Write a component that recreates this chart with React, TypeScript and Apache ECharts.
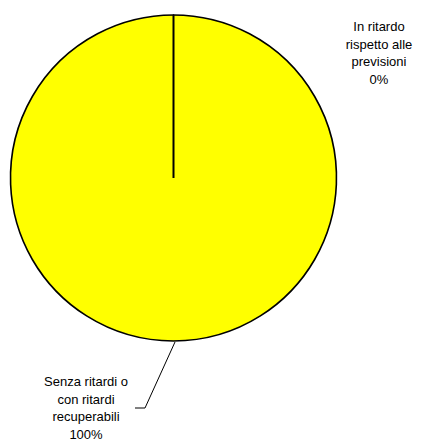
import React, { useEffect, useRef } from "react";
import * as echarts from "echarts";

const categories = ["In ritardo\nrispetto alle\nprevisioni", "Senza ritardi o\ncon ritardi\nrecuperabili"];
const percentages = [0, 100];
const colors = ["#FFFF00", "#FFFF00"];

const CX = 173.5;
const CY = 178;
const R = 163;

export default function App() {
  const ref = useRef<HTMLDivElement>(null);
  useEffect(() => {
    if (!ref.current) return;
    const chart = echarts.init(ref.current, null, { renderer: "svg" });
    chart.setOption({
      animation: false,
      backgroundColor: "#ffffff",
      series: [
        {
          type: "pie",
          center: [CX, CY],
          radius: R,
          startAngle: 90,
          clockwise: true,
          avoidLabelOverlap: false,
          itemStyle: { borderColor: "#000000", borderWidth: 1.6 },
          label: {
            show: true,
            position: "outside",
            formatter: "{b}\n{d}%",
            fontFamily: "'Liberation Sans', Arial, sans-serif",
            fontSize: 13,
            lineHeight: 17.5,
            color: "#000000",
            align: "center",
          },
          labelLine: { show: true, lineStyle: { color: "#000000", width: 1 } },
          labelLayout: (p: any) => {
            if (p.dataIndex === 0) {
              return { x: 379, y: 53, align: "center", verticalAlign: "middle" };
            }
            return {
              x: 86,
              y: 408,
              align: "center",
              verticalAlign: "middle",
              labelLinePoints: [
                [175, 342],
                [145, 408],
                [135, 408],
              ],
            };
          },
          data: categories.map((c, i) => ({
            name: c,
            value: percentages[i],
            itemStyle: { color: colors[i] },
            labelLine: { show: i === 1 },
          })),
        },
      ],
      graphic: [
        {
          type: "line",
          z: 100,
          shape: { x1: CX, y1: CY, x2: CX, y2: CY - R },
          style: { stroke: "#000000", lineWidth: 2 },
        },
      ],
    });
    return () => chart.dispose();
  }, []);
  return (
    <div
      ref={ref}
      style={{ position: "fixed", left: 0, top: 0, width: 425, height: 444 }}
    />
  );
}
